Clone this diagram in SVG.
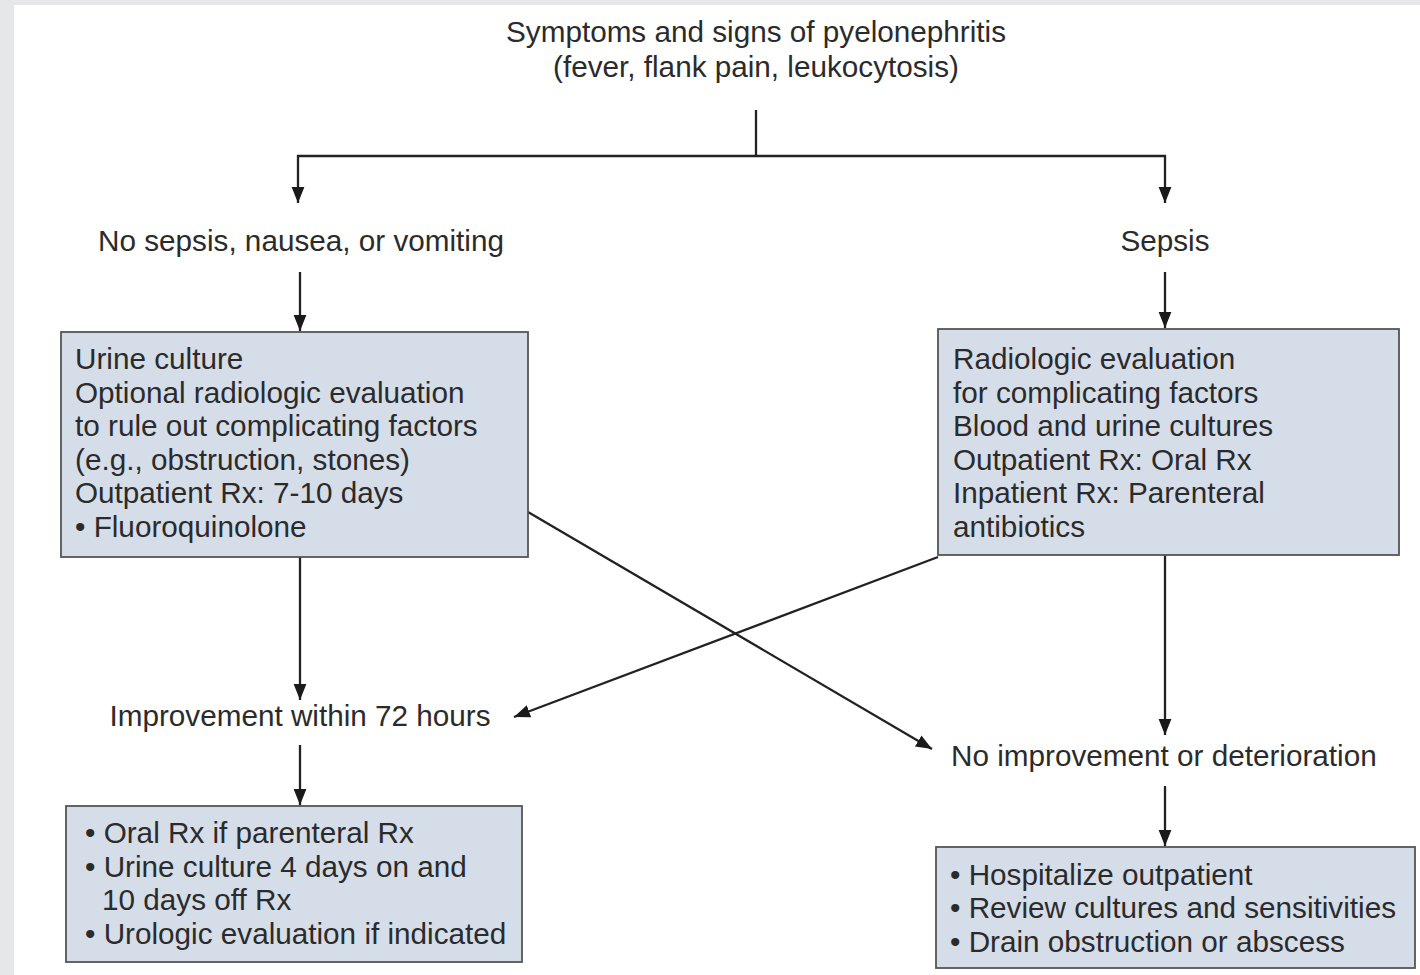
<svg xmlns="http://www.w3.org/2000/svg" width="1420" height="975" viewBox="0 0 1420 975">
<defs>
<marker id="ah" viewBox="0 0 10 10" refX="10" refY="5" markerWidth="16" markerHeight="16" markerUnits="userSpaceOnUse" orient="auto">
<path d="M0,1 L10,5 L0,9 Z" fill="#1a1a1a"/>
</marker>
<style>
text{font-family:"Liberation Sans",Arial,sans-serif;font-size:29.7px;fill:#2b2b2b}
.box{fill:#d5dde9;stroke:#555;stroke-width:1.8}
.ln{fill:none;stroke:#222;stroke-width:2.3}
.ar{fill:none;stroke:#222;stroke-width:2.3;marker-end:url(#ah)}
</style>
</defs>
<rect width="1420" height="975" fill="#e6e7e8"/>
<rect x="14" y="5" width="1406" height="970" fill="#ffffff"/>
<g id="connectors">
<polyline class="ln" points="756,110 756,156"/>
<polyline class="ar" points="756,156 298,156 298,203"/>
<polyline class="ar" points="756,156 1165,156 1165,203"/>
<line class="ar" x1="300" y1="272" x2="300" y2="331"/>
<line class="ar" x1="1165" y1="272" x2="1165" y2="328"/>
<line class="ar" x1="300" y1="557" x2="300" y2="700"/>
<line class="ar" x1="1165" y1="555" x2="1165" y2="735"/>
<line class="ar" x1="528" y1="512" x2="932" y2="749"/>
<line class="ar" x1="938" y1="557" x2="514" y2="717"/>
<line class="ar" x1="300" y1="745" x2="300" y2="805"/>
<line class="ar" x1="1165" y1="786" x2="1165" y2="846"/>
</g>
<g id="title">
<text x="756" y="42" text-anchor="middle">Symptoms and signs of pyelonephritis</text>
<text x="756" y="77" text-anchor="middle">(fever, flank pain, leukocytosis)</text>
</g>
<g id="nosepsis"><text x="301" y="251" text-anchor="middle">No sepsis, nausea, or vomiting</text></g>
<g id="sepsis"><text x="1165" y="251" text-anchor="middle">Sepsis</text></g>
<g id="outpatient">
<rect class="box" x="61" y="332" width="467" height="225"/>
<text x="75" y="369">Urine culture</text>
<text x="75" y="403">Optional radiologic evaluation</text>
<text x="75" y="436">to rule out complicating factors</text>
<text x="75" y="470">(e.g., obstruction, stones)</text>
<text x="75" y="503">Outpatient Rx: 7-10 days</text>
<text x="75" y="537">• Fluoroquinolone</text>
</g>
<g id="radiologic">
<rect class="box" x="938" y="329" width="461" height="226"/>
<text x="953" y="369">Radiologic evaluation</text>
<text x="953" y="403">for complicating factors</text>
<text x="953" y="436">Blood and urine cultures</text>
<text x="953" y="470">Outpatient Rx: Oral Rx</text>
<text x="953" y="503">Inpatient Rx: Parenteral</text>
<text x="953" y="537">antibiotics</text>
</g>
<g id="improvement"><text x="300" y="726" text-anchor="middle">Improvement within 72 hours</text></g>
<g id="noimprovement"><text x="951" y="766">No improvement or deterioration</text></g>
<g id="followup">
<rect class="box" x="66" y="806" width="456" height="156"/>
<text x="85" y="843">• Oral Rx if parenteral Rx</text>
<text x="85" y="877">• Urine culture 4 days on and</text>
<text x="102" y="910">10 days off Rx</text>
<text x="85" y="944">• Urologic evaluation if indicated</text>
</g>
<g id="hospitalize">
<rect class="box" x="936" y="847" width="479" height="121"/>
<text x="950" y="885">• Hospitalize outpatient</text>
<text x="950" y="918">• Review cultures and sensitivities</text>
<text x="950" y="952">• Drain obstruction or abscess</text>
</g>
</svg>
